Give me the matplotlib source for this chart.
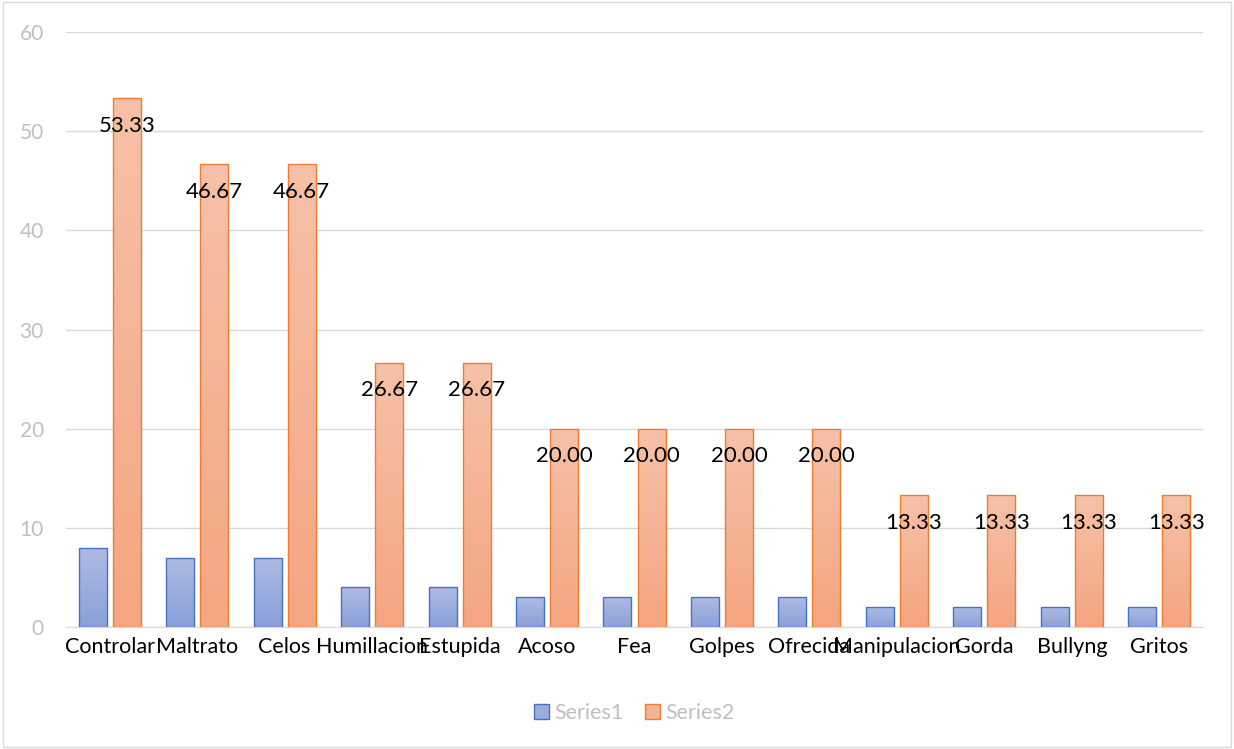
import numpy as np
import matplotlib
matplotlib.use("Agg")
from matplotlib import pyplot as plt
from matplotlib.patches import Rectangle
from matplotlib.colors import LinearSegmentedColormap

plt.rcParams["font.family"] = ["Lato", "DejaVu Sans"]

categories = ["Controlar", "Maltrato", "Celos", "Humillacion", "Estupida", "Acoso", "Fea",
              "Golpes", "Ofrecida", "Manipulacion", "Gorda", "Bullyng", "Gritos"]
series1 = [8, 7, 7, 4, 4, 3, 3, 3, 3, 2, 2, 2, 2]
series2 = [53.33, 46.67, 46.67, 26.67, 26.67, 20.00, 20.00, 20.00, 20.00, 13.33, 13.33, 13.33, 13.33]

fig = plt.figure(figsize=(12.34, 7.49), dpi=100)
ax = fig.add_axes([66 / 1234, 122 / 749, 1137 / 1234, 595 / 749])

x = np.arange(len(categories))
w = 0.32
off = 0.195

cmap1 = LinearSegmentedColormap.from_list("s1", ["#8aa0d8", "#aebbe3"])
cmap2 = LinearSegmentedColormap.from_list("s2", ["#f4a581", "#f6c1a8"])

b1 = ax.bar(x - off, series1, w, facecolor="#9cadde", edgecolor="#4472c4", linewidth=1, label="Series1", zorder=3)
b2 = ax.bar(x + off, series2, w, facecolor="#f5b293", edgecolor="#ed7d31", linewidth=1, label="Series2", zorder=3)

# vertical gradient inside each bar
grad = np.linspace(0, 1, 256).reshape(-1, 1)
for bars, cm in [(b1, cmap1), (b2, cmap2)]:
    for b in bars:
        bx, by = b.get_x(), b.get_y()
        bw, bh = b.get_width(), b.get_height()
        im = ax.imshow(grad, cmap=cm, origin="lower", aspect="auto",
                       extent=[bx, bx + bw, by, by + bh], zorder=2.5)
        im.set_clip_path(b)
        b.set_facecolor("none")

for xi, v in zip(x, series2):
    ax.annotate(f"{v:.2f}", (xi + off, v), xytext=(0, -20), textcoords="offset points",
                ha="center", va="center", fontsize=16, color="black", zorder=5)

ax.set_xlim(-0.5, len(categories) - 0.5)
ax.set_ylim(0, 60)
ax.set_yticks(range(0, 61, 10))
ax.set_xticks(x)
ax.set_xticklabels(categories, fontsize=15.5, color="black")
ax.tick_params(axis="y", labelsize=15, labelcolor="#bfbfbf", length=0, pad=16)
ax.tick_params(axis="x", length=0, pad=7)
ax.grid(axis="y", color="#d9d9d9", linewidth=1, zorder=0)
for s in ["top", "right", "left"]:
    ax.spines[s].set_visible(False)
ax.spines["bottom"].set_color("#d9d9d9")

leg = ax.legend(loc="center", bbox_to_anchor=(0.5, -0.145), ncol=2, frameon=False,
                fontsize=15.5, handlelength=0.7, handleheight=0.7, handletextpad=0.25, columnspacing=1.0)
for t in leg.get_texts():
    t.set_color("#bfbfbf")
leg.legend_handles[0].set_facecolor("#9cadde")
leg.legend_handles[1].set_facecolor("#f5b293")

fig.patches.append(Rectangle((3 / 1234, 2 / 749), 1228 / 1234, 745 / 749, transform=fig.transFigure,
                             fill=False, edgecolor="#d9d9d9", linewidth=1))

fig.savefig("out.png", dpi=100)
